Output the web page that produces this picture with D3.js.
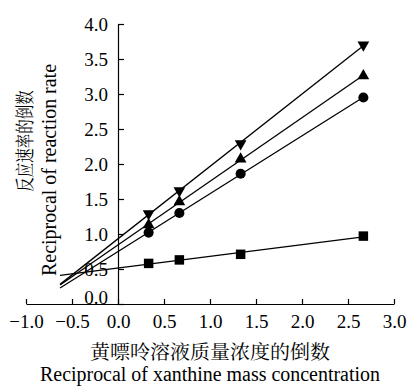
<!DOCTYPE html>
<html>
<head>
<meta charset="utf-8">
<script src="https://cdn.jsdelivr.net/npm/d3@7"></script>
<style>
  body { margin: 0; background: #fff; }
  svg text { font-family: "Liberation Serif", "Times New Roman", serif; fill: #000; }
  svg text.cjk { font-family: "Noto Serif CJK SC", "Noto Sans CJK SC", serif; }
</style>
</head>
<body>
<script>
// reciprocal of xanthine mass concentration
var xValues = [0.333, 0.667, 1.333, 2.667];
// reciprocal of reaction rate, one array per marker series
var squareValues = [0.58, 0.63, 0.71, 0.97];
var circleValues = [1.02, 1.30, 1.86, 2.95];
var triUpValues = [1.13, 1.46, 2.07, 3.26];
var triDownValues = [1.29, 1.62, 2.29, 3.70];
var xTicks = [-1.0, -0.5, 0.0, 0.5, 1.0, 1.5, 2.0, 2.5, 3.0];
var yTicks = [0.0, 0.5, 1.0, 1.5, 2.0, 2.5, 3.0, 3.5, 4.0];
var lineStartX = -0.63;

var w = 409, h = 386;

var svg = d3.select("body").append("svg")
    .attr("width", w)
    .attr("height", h);

var x = d3.scaleLinear().domain([-1, 3]).range([26, 394]);
var y = d3.scaleLinear().domain([0, 4]).range([304, 24]);

// x axis at y = 0, ticks pointing up, labels below
var xAxis = svg.append("g")
    .attr("transform", "translate(0," + y(0) + ")")
    .call(d3.axisTop(x).tickValues(xTicks).tickSize(5).tickSizeOuter(0)
        .tickFormat(d3.format(".1f")));
xAxis.attr("font-size", 19);
xAxis.selectAll("text")
    .attr("y", 17)
    .attr("dy", "0.35em")
    .text(function(d){ return d3.format(".1f")(d).replace("-", "\u2212"); });

// y axis at x = 0, ticks pointing right, labels left
var yAxis = svg.append("g")
    .attr("transform", "translate(" + x(0) + ",0)")
    .call(d3.axisRight(y).tickValues(yTicks).tickSize(6).tickSizeOuter(0)
        .tickFormat(d3.format(".1f")));
yAxis.attr("font-size", 19);
yAxis.selectAll("text")
    .attr("x", -10)
    .attr("dy", function(d){ return d == 0 ? "-0.05em" : "0.35em"; })
    .attr("text-anchor", "end");

svg.selectAll(".domain, .tick line").attr("stroke", "#000").attr("stroke-width", 1.2);

// least squares line for each series
function fit(vals) {
    var mx = d3.mean(xValues), my = d3.mean(vals);
    var sxy = d3.sum(xValues, function(v, i){ return (v - mx) * (vals[i] - my); });
    var sxx = d3.sum(xValues, function(v){ return (v - mx) * (v - mx); });
    var b = sxy / sxx;
    return { slope: b, icpt: my - b * mx };
}

var series = [
    { vals: squareValues, sym: d3.symbolSquare, size: 90, rot: 0 },
    { vals: circleValues, sym: d3.symbolCircle, size: 80, rot: 0 },
    { vals: triUpValues, sym: d3.symbolTriangle, size: 60, rot: 0 },
    { vals: triDownValues, sym: d3.symbolTriangle, size: 60, rot: 180 }
];

series.forEach(function(s){
    var f = fit(s.vals);
    var x1 = d3.max(xValues);
    svg.append("line")
        .attr("x1", x(lineStartX))
        .attr("y1", y(f.icpt + f.slope * lineStartX))
        .attr("x2", x(x1))
        .attr("y2", y(f.icpt + f.slope * x1))
        .attr("stroke", "#000")
        .attr("stroke-width", 1.3);
});

series.forEach(function(s){
    svg.selectAll(null)
        .data(s.vals)
        .enter()
        .append("path")
        .attr("d", d3.symbol().type(s.sym).size(s.size))
        .attr("transform", function(d, i){
            return "translate(" + x(xValues[i]) + "," + y(d) + ") rotate(" + s.rot + ")";
        })
        .attr("fill", "#000");
});

// axis titles
svg.append("text")
    .attr("class", "cjk")
    .attr("x", 210).attr("y", 352)
    .attr("dy", "0.35em")
    .attr("text-anchor", "middle")
    .style("font-size", "19px")
    .attr("textLength", 240)
    .attr("lengthAdjust", "spacingAndGlyphs")
    .text("黄嘌呤溶液质量浓度的倒数");
svg.append("text")
    .attr("x", 210).attr("y", 374)
    .attr("dy", "0.35em")
    .attr("text-anchor", "middle")
    .style("font-size", "20px")
    .attr("textLength", 340)
    .attr("lengthAdjust", "spacingAndGlyphs")
    .text("Reciprocal of xanthine mass concentration");

svg.append("text")
    .attr("class", "cjk")
    .attr("transform", "translate(25,141) scale(1.35,1) rotate(-90)")
    .attr("dy", "0.35em")
    .attr("text-anchor", "middle")
    .style("font-size", "14.5px")
    .text("反应速率的倒数");
svg.append("text")
    .attr("transform", "translate(49,170) rotate(-90)")
    .attr("dy", "0.35em")
    .attr("text-anchor", "middle")
    .style("font-size", "20px")
    .attr("textLength", 212)
    .attr("lengthAdjust", "spacingAndGlyphs")
    .text("Reciprocal of reaction rate");
</script>
</body>
</html>
